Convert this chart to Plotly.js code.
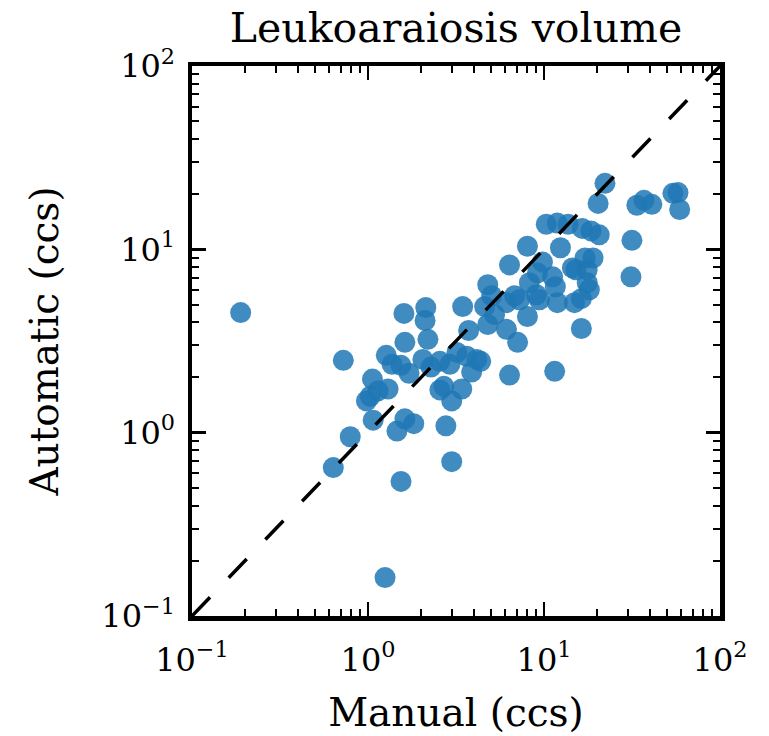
<!DOCTYPE html>
<html>
<head>
<meta charset="utf-8">
<script src="https://cdn.plot.ly/plotly-3.0.1.min.js"></script>
<style>html,body{margin:0;padding:0;background:#fff;}#chart{width:769px;height:736px;}</style>
</head>
<body>
<div id="chart"></div>
<script>
var manual = [0.189,0.724,0.635,0.793,1.07,1.25,1.54,2.99,1.46,1.62,
  1.82,1.06,1.03,0.98,1.14,1.30,1.27,1.37,1.54,1.71,
  1.60,2.13,2.11,1.62,2.19,2.05,2.28,2.56,2.56,2.77,
  2.99,3.41,2.70,2.92,3.20,3.64,4.15,3.88,4.37,3.45,
  3.73,4.79,5.04,4.60,5.24,4.79,6.12,6.12,6.81,7.26,
  6.37,8.05,8.26,9.18,9.80,9.06,9.42,8.05,7.08,6.37,
  11.5,10.3,11.9,13.7,12.4,11.2,11.6,11.9,14.5,14.9,
  16.3,16.5,18.5,20.6,17.1,19.0,15.2,17.6,17.6,18.1,
  16.3,22.2,20.3,33.7,37.0,41.0,54.0,59.0,31.6,31.2,57.7];
var automatic = [4.52,2.48,0.645,0.95,1.17,0.162,0.542,0.695,1.02,1.19,
  1.12,1.96,1.58,1.49,1.69,1.73,2.64,2.36,2.33,2.11,
  4.47,4.81,4.09,3.11,3.23,2.51,2.28,2.45,1.71,1.09,
  1.49,1.73,1.79,2.36,2.74,2.61,2.51,2.14,2.45,4.87,
  3.61,6.41,5.58,4.87,4.41,3.89,3.66,5.12,5.58,5.31,
  8.22,10.4,6.57,7.44,8.54,5.65,5.31,4.30,3.11,2.06,
  2.16,13.7,13.9,13.7,10.2,7.08,6.25,5.12,7.92,5.12,
  3.70,13.0,12.6,12.0,8.97,8.97,7.73,7.73,6.57,6.02,
  5.38,22.9,17.8,17.4,18.5,17.6,20.2,16.5,11.2,7.08,20.4];
var identityLine = [0.1, 100];
var tickVals = [0.1, 1, 10, 100];
var tickText = ['10<sup>\u22121</sup>', '10<sup>0</sup>', '10<sup>1</sup>', '10<sup>2</sup>'];

var serif = 'DejaVu Serif, serif';

var traces = [
  {
    x: manual, y: automatic, type: 'scatter', mode: 'markers',
    marker: {size: 21, color: '#1f77b4', opacity: 0.85, line: {width: 0}},
    hoverinfo: 'skip', showlegend: false
  },
  {
    x: identityLine, y: identityLine, type: 'scatter', mode: 'lines',
    line: {color: '#000', width: 3.5, dash: '26px,27px'},
    hoverinfo: 'skip', showlegend: false
  }
];

function axis(titleText) {
  return {
    type: 'log', range: [-1, 2], autorange: false,
    tickvals: tickVals, ticktext: tickText,
    ticks: 'inside', ticklen: 14, tickwidth: 2.5, tickcolor: '#000',
    showline: true, linewidth: 4.5, linecolor: '#000', mirror: 'ticks',
    showgrid: false, zeroline: false,
    tickfont: {family: serif, size: 32, color: '#000'},
    minor: {ticks: 'inside', ticklen: 7, tickwidth: 2, tickcolor: '#000', dtick: 'D1', showgrid: false},
    title: {text: titleText, font: {family: serif, size: 39, color: '#000'}},
    automargin: false
  };
}

var xa = axis('Manual (ccs)');
xa.ticklabelstandoff = 12;
xa.title.standoff = 22;
var ya = axis('Automatic (ccs)');
ya.ticklabelstandoff = 6;
ya.title.standoff = 32;

var layout = {
  width: 769, height: 736,
  margin: {l: 192, r: 49, t: 66, b: 120, pad: 0},
  paper_bgcolor: '#fff', plot_bgcolor: '#fff',
  title: {text: 'Leukoaraiosis volume', font: {family: serif, size: 41, color: '#000'},
          x: 0.5, xref: 'paper', xanchor: 'center', y: 0.962, yref: 'container', yanchor: 'middle'},
  xaxis: xa, yaxis: ya, showlegend: false
};

Plotly.newPlot('chart', traces, layout, {staticPlot: true, displayModeBar: false});
</script>
</body>
</html>
